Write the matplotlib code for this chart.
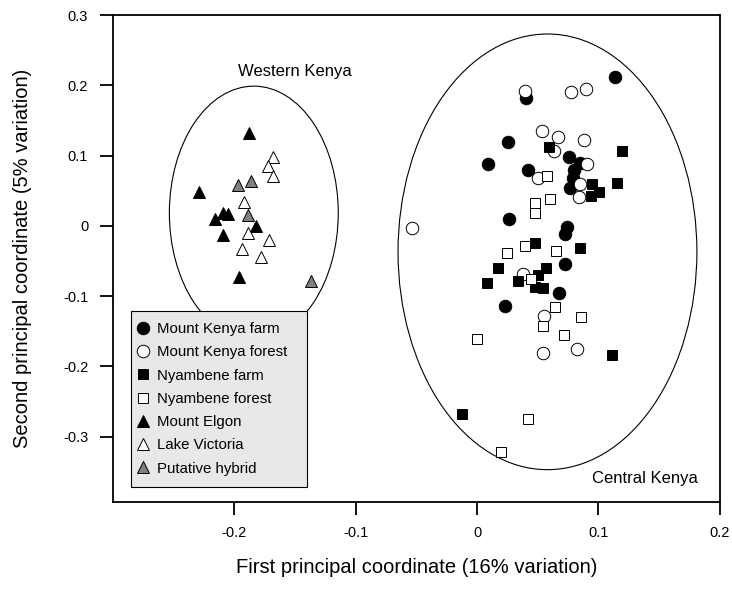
import matplotlib.pyplot as plt
from matplotlib.patches import Ellipse

plt.rcParams['font.family'] = ['Liberation Sans', 'DejaVu Sans']

# Mount Kenya farm (black circles)
mkfarm_x = [0.1136, 0.0403, 0.0257, 0.0093, 0.0757, 0.0422, 0.0848, 0.0798,
            0.0788, 0.0765, 0.0263, 0.0738, 0.0724, 0.0724, 0.0675, 0.0230]
mkfarm_y = [0.2122, 0.1815, 0.1198, 0.0880, 0.0984, 0.0795, 0.0890, 0.0795,
            0.0677, 0.0535, 0.0098, -0.0011, -0.0119, -0.0542, -0.0959, -0.1135]

# Mount Kenya forest (open circles)
mkforest_x = [0.0395, 0.0771, 0.0895, 0.0533, 0.0669, 0.0881, 0.0636, 0.0505,
              0.0908, 0.0848, 0.0842, -0.0537, 0.0381, 0.0554, 0.0541, 0.0821]
mkforest_y = [0.1923, 0.1900, 0.1943, 0.1354, 0.1269, 0.1222, 0.1070, 0.0686,
              0.0880, 0.0596, 0.0407, -0.0034, -0.0684, -0.1277, -0.1812, -0.1751]

# Nyambene farm (black squares)
nyfarm_x = [0.0593, 0.1191, 0.0944, 0.1004, 0.0936, 0.1155, 0.0477, 0.0848, 0.0175,
            0.0565, 0.0505, 0.0340, 0.0085, 0.0477, 0.0546, 0.1114, -0.0120]
nyfarm_y = [0.1127, 0.1070, 0.0596, 0.0487, 0.0425, 0.0606, -0.0248, -0.0319, -0.0603,
            -0.0595, -0.0698, -0.0784, -0.0808, -0.0873, -0.0888, -0.1837, -0.2680]

# Nyambene forest (open squares)
nyforest_x = [0.0574, 0.0477, 0.0601, 0.0477, 0.0249, 0.0395, 0.0650, 0.0442,
              0.0642, 0.0856, 0.0546, 0.0716, 0.0002, 0.0420, 0.0200]
nyforest_y = [0.0710, 0.0330, 0.0378, 0.0188, -0.0381, -0.0286, -0.0353, -0.0760,
              -0.1158, -0.1292, -0.1424, -0.1552, -0.1613, -0.2750, -0.3220]

# Mount Elgon (black triangles)
elgon_x = [-0.1874, -0.2286, -0.2093, -0.2047, -0.2154, -0.1816, -0.2088, -0.1956]
elgon_y = [0.1326, 0.0486, 0.0188, 0.0165, 0.0094, -0.0001, -0.0137, -0.0731]

# Lake Victoria (open triangles)
victoria_x = [-0.1681, -0.1718, -0.1681, -0.1915, -0.1882, -0.1710, -0.1934, -0.1778]
victoria_y = [0.0976, 0.0856, 0.0714, 0.0333, -0.0097, -0.0205, -0.0333, -0.0447]

# Putative hybrid (grey triangles)
hybrid_x = [-0.1965, -0.1860, -0.1886, -0.1366]
hybrid_y = [0.0582, 0.0643, 0.0161, -0.0780]

fig = plt.figure(figsize=(7.32, 6.03), dpi=100)
ax = fig.add_axes([0.1537, 0.1675, 0.8299, 0.8076])

ew = 0.7
ax.plot(mkfarm_x, mkfarm_y, 'o', ms=9, mfc='black', mec='black', mew=ew, label='Mount Kenya farm')
ax.plot(mkforest_x, mkforest_y, 'o', ms=9, mfc='white', mec='black', mew=ew, label='Mount Kenya forest')
ax.plot(nyfarm_x, nyfarm_y, 's', ms=7.2, mfc='black', mec='black', mew=ew, label='Nyambene farm')
ax.plot(nyforest_x, nyforest_y, 's', ms=7.2, mfc='white', mec='black', mew=ew, label='Nyambene forest')
ax.plot(elgon_x, elgon_y, '^', ms=8.8, mfc='black', mec='black', mew=ew, label='Mount Elgon')
ax.plot(victoria_x, victoria_y, '^', ms=8.8, mfc='white', mec='black', mew=ew, label='Lake Victoria')
ax.plot(hybrid_x, hybrid_y, '^', ms=8.8, mfc='#808080', mec='black', mew=ew, label='Putative hybrid')

# group ellipses
ax.add_patch(Ellipse((-0.1837, 0.0183), 0.139, 0.361, fill=False, ec='black', lw=0.8))
ax.add_patch(Ellipse((0.058, -0.037), 0.246, 0.620, fill=False, ec='black', lw=0.8))
ax.text(-0.1498, 0.2193, 'Western Kenya', fontsize=12, ha='center', va='center')
ax.text(0.1383, -0.360, 'Central Kenya', fontsize=12, ha='center', va='center')

ax.set_xlim(-0.3, 0.2)
ax.set_ylim(-0.393, 0.3)
ax.set_xticks([-0.2, -0.1, 0, 0.1, 0.2])
ax.set_xticklabels(['-0.2', '-0.1', '0', '0.1', '0.2'])
ax.set_yticks([-0.3, -0.2, -0.1, 0, 0.1, 0.2, 0.3])
ax.set_yticklabels(['-0.3', '-0.2', '-0.1', '0', '0.1', '0.2', '0.3'])
ax.tick_params(direction='out', length=9.5, width=1.3, labelsize=10.5, pad=8)
for s in ax.spines.values():
    s.set_linewidth(1.3)

ax.set_xlabel('First principal coordinate (16% variation)', fontsize=14.5, labelpad=13)
ax.set_ylabel('Second principal coordinate (5% variation)', fontsize=14.5, labelpad=22)

leg = ax.legend(loc='lower left', bbox_to_anchor=(0.0305, 0.0308, 0.2895, 0.37), mode='expand',
                borderaxespad=0, fontsize=10.8, frameon=True, fancybox=False,
                facecolor='#e8e8e8', edgecolor='black', framealpha=1,
                handlelength=0.1, handletextpad=0.85, labelspacing=0.62, borderpad=0.75)
leg.get_frame().set_linewidth(0.8)

fig.savefig('out.png', dpi=100)
